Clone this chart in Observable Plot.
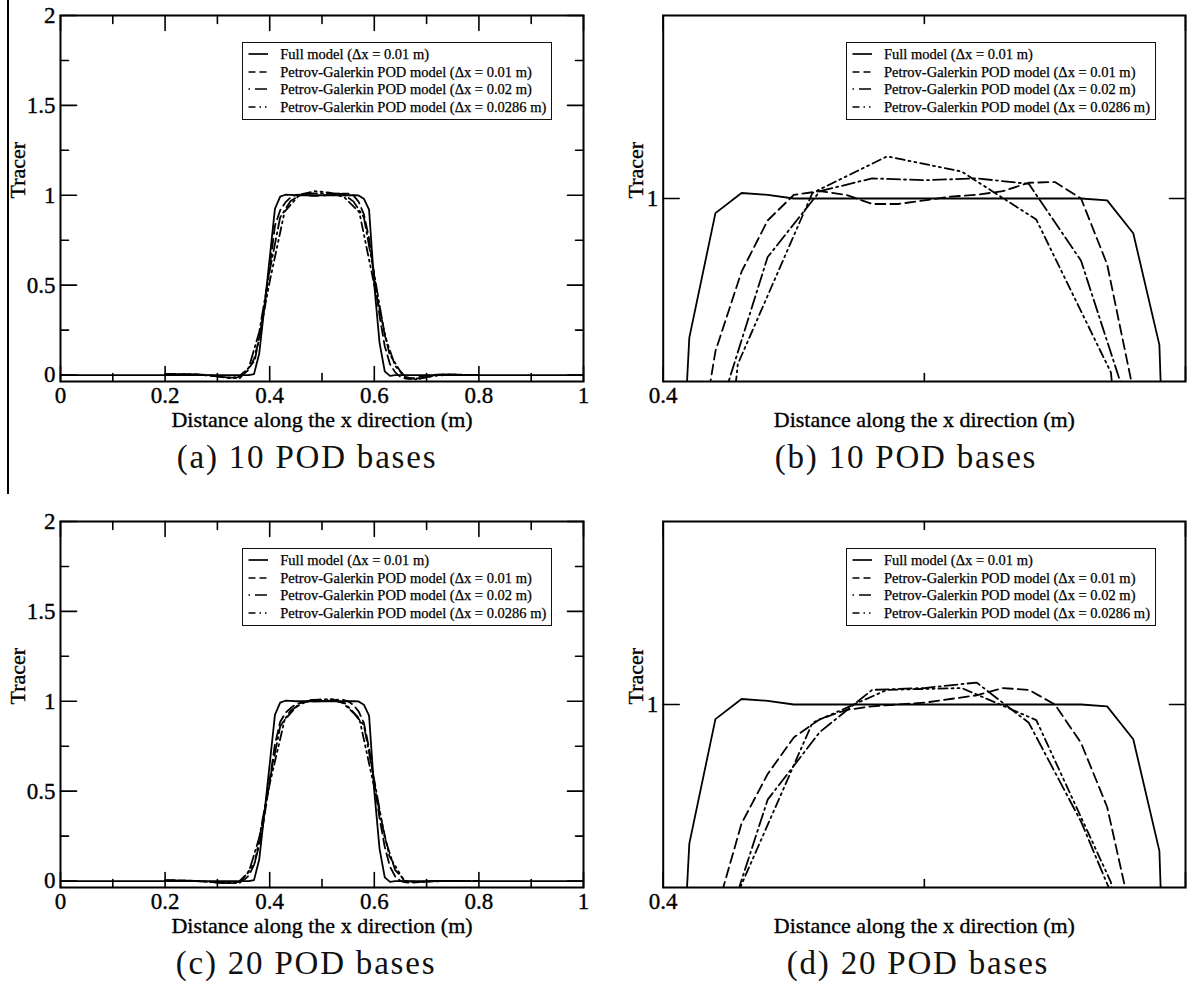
<!DOCTYPE html>
<html>
<head>
<meta charset="utf-8">
<script src="https://cdn.jsdelivr.net/npm/d3@7"></script>
<script src="https://cdn.jsdelivr.net/npm/@observablehq/plot@0.6"></script>
<style>
  html, body { margin: 0; padding: 0; background: #fff; }
  body { width: 1188px; height: 988px; position: relative; overflow: hidden; font-family: "Liberation Serif", "Times New Roman", serif; color: #000; }
  .panel { position: absolute; }
  .panel svg text { stroke: #000; stroke-width: 0.35px; }
  .legend { position: absolute; border: 1.5px solid #111; background: #fff; box-sizing: border-box; width: 310px; height: 78px; }
  .legend .row { position: absolute; left: 0; height: 18px; width: 100%; }
  .legend svg { position: absolute; left: 4px; top: 0; }
  .legend span { position: absolute; left: 37px; top: 0; line-height: 18px; font-size: 14.5px; white-space: nowrap; -webkit-text-stroke: 0.25px #000; }
  .caption { position: absolute; font-size: 33px; line-height: 33px; letter-spacing: 1.8px; white-space: nowrap; transform: translateX(-50%); color: #111; }
  .edge { position: absolute; left: 7px; top: 0; width: 1.5px; height: 494px; background: #000; }
</style>
</head>
<body>
<div class="edge"></div>
<script>
// ---------- series names ----------
const seriesNames = [
  "Full model (\u0394x = 0.01 m)",
  "Petrov-Galerkin POD model (\u0394x = 0.01 m)",
  "Petrov-Galerkin POD model (\u0394x = 0.02 m)",
  "Petrov-Galerkin POD model (\u0394x = 0.0286 m)"
];

// ---------- x meshes ----------
const fullX = d3.range(0, 101).map(i => +(i * 0.01).toFixed(2));          // 0 .. 1, dx = 0.01
const pod01X = d3.range(20, 81).map(i => +(i * 0.01).toFixed(2));         // 0.2 .. 0.8, dx = 0.01
const pod02X = d3.range(10, 41).map(i => +(i * 0.02).toFixed(2));         // 0.2 .. 0.8, dx = 0.02
const pod0286X = [0.2, 0.22857, 0.25714, 0.28571, 0.31429, 0.34286, 0.37143, 0.4, 0.42857, 0.45714, 0.48571,
                  0.51429, 0.54286, 0.57143, 0.6, 0.62857, 0.65714, 0.68571, 0.71429, 0.74286, 0.77143, 0.8];

// ---------- full model (same in both cases) ----------
const fullY = [
  0,0,0,0,0,0,0,0,0,0, 0,0,0,0,0,0,0,0,0,0, 0,0,0,0,0,0,0,0,0,0, 0,0,0,0,0,0,0,
  0.005, 0.12, 0.38, 0.65, 0.924, 0.992, 1.003, 1.002,
  1.0, 1.0, 1.0, 1.0, 1.0, 1.0, 1.0, 1.0, 1.0, 1.0, 1.0, 1.0,
  0.999, 0.981, 0.92, 0.5, 0.18, 0.02, -0.005,
  0,0,0,0,0,0,0,0,0,0, 0,0,0,0,0,0,0,0,0,0, 0,0,0,0,0,0,0,0,0,0, 0,0,0,0,0,0,0
];

// ---------- 10 POD bases ----------
const pod10_01 = [
  0.005, 0.006, 0.006, 0.005, 0.005, 0.004, 0.003, 0.002, 0.000, -0.003,
  -0.006, -0.010, -0.014, -0.015, -0.010, 0.005, 0.030, 0.090, 0.200, 0.380,
  0.600, 0.830, 0.9165, 0.960, 0.988, 1.002, 1.004, 1.002, 0.997, 0.997,
  0.999, 1.001, 1.002, 1.004, 1.0086, 1.009, 1.000, 0.964, 0.895, 0.760,
  0.550, 0.330, 0.160, 0.060, 0.015, -0.010, -0.020, -0.022, -0.015, -0.008,
  -0.003, 0.000, 0.002, 0.003, 0.003, 0.002, 0.002, 0.001, 0.001, 0.000, 0.000
];
const pod10_02 = [
  0.004, 0.005, 0.004, 0.002, -0.002, -0.008, -0.016, -0.012, 0.040, 0.240,
  0.580, 0.877, 0.968, 1.004, 1.011, 1.010, 1.011, 1.008, 0.966, 0.878,
  0.560, 0.220, 0.050, -0.010, -0.025, -0.012, 0.000, 0.003, 0.002, 0.001, 0.000
];
const pod10_0286 = [
  0.004, 0.005, 0.003, -0.002, -0.012, -0.018, 0.08, 0.52, 0.9095, 1.003, 1.023,
  1.0147, 0.9885, 0.905, 0.50, 0.12, -0.015, -0.02, -0.005, 0.002, 0.001, 0.0
];

// ---------- 20 POD bases ----------
const pod20_01 = [
  0.003, 0.004, 0.004, 0.003, 0.002, 0.001, 0.000, -0.002, -0.004, -0.006,
  -0.008, -0.010, -0.012, -0.012, -0.008, 0.004, 0.030, 0.090, 0.200, 0.360,
  0.560, 0.760, 0.885, 0.935, 0.962, 0.982, 0.992, 0.997, 0.999, 1.000,
  1.001, 1.003, 1.005, 1.009, 1.008, 1.000, 0.979, 0.944, 0.880, 0.740,
  0.550, 0.350, 0.190, 0.080, 0.025, 0.000, -0.008, -0.010, -0.008, -0.005,
  -0.002, 0.000, 0.001, 0.001, 0.001, 0.001, 0.000, 0.000, 0.000, 0.000, 0.000
];
const pod20_02 = [
  0.003, 0.003, 0.002, 0.000, -0.004, -0.008, -0.012, -0.006, 0.050, 0.240,
  0.560, 0.860, 0.948, 0.985, 1.008, 1.009, 1.012, 0.990, 0.936, 0.868,
  0.560, 0.240, 0.060, 0.000, -0.006, -0.003, 0.000, 0.001, 0.000, 0.000, 0.000
];
const pod20_0286 = [
  0.003, 0.003, 0.001, -0.004, -0.012, -0.010, 0.10, 0.54, 0.897, 0.990, 1.008,
  1.009, 0.9915, 0.903, 0.52, 0.14, 0.0, -0.006, -0.002, 0.0, 0.0, 0.0
];

// ---------- ticks ----------
const xMajorWide = [0, 0.2, 0.4, 0.6, 0.8, 1];
const xMinorWide = [0.1, 0.3, 0.5, 0.7, 0.9];
const yMajorWide = [0, 0.5, 1, 1.5, 2];
const yMinorWide = [0.25, 0.75, 1.25, 1.75];
const xMajorZoom = [0.4, 0.6];
const xMinorZoom = [0.5];
const yMajorZoom = [1];
const xLabelsZoom = [0.4];
const yLabelsZoom = [1];

const captions = ["(a) 10 POD bases", "(b) 10 POD bases", "(c) 20 POD bases", "(d) 20 POD bases"];
const xTitle = "Distance along the x direction (m)";
const yTitle = "Tracer";

// ---------- styles ----------
const plotDash = [null, "10,5", "13,4,2,4", "9,4,2,4,2,4"];
const legendDash = [null, "7,4", "1.5,5,12,40", "7,4,1.5,4,1.5,40"];

const toRows = (xs, ys) => xs.map((x, i) => ({x, y: ys[i]}));
const tickShape = {draw(ctx, l) { ctx.moveTo(0, 0); ctx.lineTo(0, -l); }};

function tickMarks(vals, anchor, rot, len) {
  const key = (anchor === "bottom" || anchor === "top") ? "x" : "y";
  return Plot.vector(vals, {[key]: d => d, frameAnchor: anchor, anchor: "start", rotate: rot,
    length: len, shape: tickShape, stroke: "#000", strokeWidth: 1.6});
}

function makePanel(cfg) {
  const marks = [];
  cfg.series.forEach((rows, k) => {
    marks.push(Plot.line(rows, {x: "x", y: "y", stroke: "#000", strokeWidth: 1.8,
      strokeDasharray: plotDash[k] || undefined, clip: true}));
  });
  marks.push(Plot.frame({stroke: "#000", strokeWidth: 2}));
  marks.push(tickMarks(cfg.xMaj, "bottom", 0, 15), tickMarks(cfg.xMaj, "top", 180, 15));
  marks.push(tickMarks(cfg.xMin, "bottom", 0, 8), tickMarks(cfg.xMin, "top", 180, 8));
  marks.push(tickMarks(cfg.yMaj, "left", 90, 16), tickMarks(cfg.yMaj, "right", -90, 16));
  if (cfg.yMin.length) marks.push(tickMarks(cfg.yMin, "left", 90, 8), tickMarks(cfg.yMin, "right", -90, 8));
  marks.push(Plot.axisX({ticks: cfg.xLab, tickSize: 0, tickPadding: 5, tickFormat: d => String(d), label: null}));
  marks.push(Plot.axisY({ticks: cfg.yLab, tickSize: 0, tickPadding: 5, tickFormat: d => String(d), label: null}));
  marks.push(Plot.text([xTitle], {frameAnchor: "bottom", dy: 45, text: d => d, fontSize: 22}));
  marks.push(Plot.text([yTitle], {frameAnchor: "left", dx: cfg.yDx, rotate: -90, text: d => d, fontSize: 22}));
  return Plot.plot({
    width: 594, height: 440,
    marginLeft: cfg.mL, marginRight: cfg.mR, marginTop: 15, marginBottom: 59,
    x: {domain: cfg.xDomain}, y: {domain: cfg.yDomain},
    style: {fontFamily: '"Liberation Serif", "Times New Roman", serif', fontSize: "23px", color: "#000", background: "transparent", overflow: "visible"},
    marks
  });
}

const wide = {xDomain: [0, 1], yDomain: [-0.036, 2], mL: 60, mR: 11, xMaj: xMajorWide, xMin: xMinorWide,
  yMaj: yMajorWide, yMin: yMinorWide, xLab: xMajorWide, yLab: yMajorWide, yDx: -42.5};
const zoom = {xDomain: [0.4, 0.6], yDomain: [0.9, 1.1], mL: 68.7, mR: 3, xMaj: xMajorZoom, xMin: xMinorZoom,
  yMaj: yMajorZoom, yMin: [], xLab: xLabelsZoom, yLab: yLabelsZoom, yDx: -27};

const set10 = [toRows(fullX, fullY), toRows(pod01X, pod10_01), toRows(pod02X, pod10_02), toRows(pod0286X, pod10_0286)];
const set20 = [toRows(fullX, fullY), toRows(pod01X, pod20_01), toRows(pod02X, pod20_02), toRows(pod0286X, pod20_0286)];

const layout = [
  {cfg: wide, series: set10, left: 0, top: 0, legendLeft: 242.3, capX: 307},
  {cfg: zoom, series: set10, left: 594, top: 0, legendLeft: 846, capX: 906},
  {cfg: wide, series: set20, left: 0, top: 506, legendLeft: 242.3, capX: 306},
  {cfg: zoom, series: set20, left: 594, top: 506, legendLeft: 846, capX: 918}
];

layout.forEach((p, idx) => {
  const wrap = document.createElement("div");
  wrap.className = "panel";
  wrap.style.left = p.left + "px";
  wrap.style.top = p.top + "px";
  wrap.appendChild(makePanel({...p.cfg, series: p.series}));
  document.body.appendChild(wrap);

  // legend
  const lg = document.createElement("div");
  lg.className = "legend";
  lg.style.left = p.legendLeft + "px";
  lg.style.top = (p.top + 41.7) + "px";
  seriesNames.forEach((name, k) => {
    const row = document.createElement("div");
    row.className = "row";
    row.style.top = (12.5 + k * 17.9 - 9 - 1.5) + "px";
    const dash = legendDash[k] ? ` stroke-dasharray="${legendDash[k]}"` : "";
    row.innerHTML = `<svg width="24" height="18"><line x1="1.5" y1="9" x2="21" y2="9" stroke="#000" stroke-width="1.7"${dash}/></svg><span>${name}</span>`;
    lg.appendChild(row);
  });
  document.body.appendChild(lg);

  // caption
  const cap = document.createElement("div");
  cap.className = "caption";
  cap.style.left = p.capX + "px";
  cap.style.top = (p.top + 441.4) + "px";
  cap.textContent = captions[idx];
  document.body.appendChild(cap);
});
</script>
</body>
</html>
